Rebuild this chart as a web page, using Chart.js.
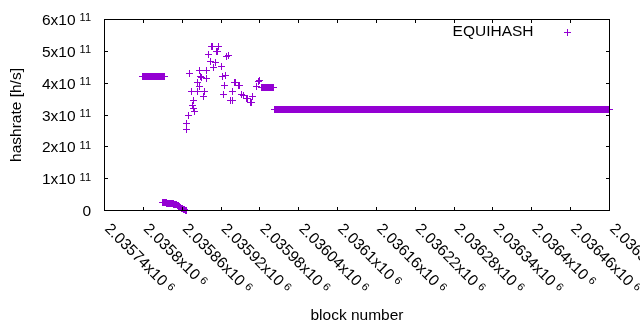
<!DOCTYPE html>
<html>
<head>
<meta charset="utf-8">
<script src="https://cdn.jsdelivr.net/npm/chart.js@4/dist/chart.umd.min.js"></script>
<style>
	html, body { margin: 0; padding: 0; background: #fff; }
</style>
</head>
<body>
<canvas id="chartHashrate" width="640" height="330"></canvas>
<script>
const seriesName = "EQUIHASH";

// stretches of blocks that stay on one flat value
const runStart = [2035799, 2035982, 2036003];
const runEnd = [2035833, 2036001, 2036520];
const runValue = [4.2e11, 3.87e11, 3.18e11];

// small falling arc near zero, one value per block from arcStart
const arcStart = 2035830;
const arcValues = [
	2.5e10, 2.5e10, 2.5e10, 2.5e10, 2.5e10, 2.5e10, 2.4e10, 2.4e10, 2.4e10, 2.4e10,
	2.4e10, 2.4e10, 2.3e10, 2.3e10, 2.3e10, 2.2e10, 2.2e10, 2.1e10, 2.1e10, 2.0e10,
	1.9e10, 1.8e10, 1.7e10, 1.6e10, 1.5e10, 1.3e10, 1.2e10, 1.1e10, 1.0e10, 0.8e10,
	0.7e10, 0.6e10, 0.5e10, 0.4e10, 0.3e10, 0.1e10, 0,
];

// the scattered blocks in between
const scatterBlocks = [
	2035866, 2035867, 2035869, 2035872, 2035875, 2035876, 2035877, 2035878, 2035879, 2035883,
	2035884, 2035886, 2035887, 2035888, 2035890, 2035893, 2035894, 2035897, 2035898, 2035901,
	2035903, 2035905, 2035907, 2035908, 2035911, 2035913, 2035914, 2035916, 2035920, 2035923,
	2035924, 2035925, 2035927, 2035929, 2035931, 2035935, 2035937, 2035938, 2035941, 2035943,
	2035947, 2035949, 2035952, 2035954, 2035959, 2035961, 2035965, 2035967, 2035969, 2035974,
	2035978, 2035980,
];
const scatterValues = [
	2.55e11, 2.72e11, 3.0e11, 4.3e11, 3.75e11, 3.31e11, 3.47e11, 3.21e11, 3.1e11, 3.75e11,
	4.01e11, 4.41e11, 3.88e11, 4.2e11, 4.16e11, 3.59e11, 3.73e11, 4.15e11, 4.38e11, 4.9e11,
	4.67e11, 5.16e11, 5.14e11, 4.49e11, 4.65e11, 4.98e11, 5.0e11, 5.16e11, 4.51e11, 4.22e11,
	3.63e11, 3.94e11, 4.25e11, 4.84e11, 4.86e11, 3.44e11, 3.45e11, 3.75e11, 4.02e11, 4.01e11,
	3.94e11, 3.93e11, 3.63e11, 3.62e11, 3.52e11, 3.51e11, 3.38e11, 3.39e11, 3.59e11, 3.88e11,
	4.06e11, 4.07e11,
];

const xMin = 2035740, xMax = 2036520, xStep = 60;
const yMin = 0, yMax = 6e11, yStep = 1e11;

const fontFamily = "'Liberation Sans', Arial, sans-serif";
const mainSize = 15.5;
const supSize = 11;
const purple = "#9400d3";

let points = [];
runStart.forEach((start, i) => {
	for (let b = start; b <= runEnd[i]; b++) points.push({ x: b, y: runValue[i] });
});
arcValues.forEach((v, i) => points.push({ x: arcStart + i, y: v }));
scatterBlocks.forEach((b, i) => points.push({ x: b, y: scatterValues[i] }));

// "2.0358x10^6" style labels, split into base and superscript
const sciParts = (value, unit, exp) => {
	if (value === 0) return { base: "0", sup: "" };
	const m = parseFloat((value / unit).toPrecision(6));
	return { base: m + "x10", sup: String(exp) };
};

const drawSci = (ctx, parts, x, y, gap) => {
	ctx.font = `${mainSize}px ${fontFamily}`;
	ctx.fillText(parts.base, x, y);
	if (!parts.sup) return;
	const wb = ctx.measureText(parts.base).width;
	ctx.font = `${supSize}px ${fontFamily}`;
	ctx.fillText(parts.sup, x + wb + gap, y - 3.5);
};

const sciWidth = (ctx, parts, gap) => {
	ctx.font = `${mainSize}px ${fontFamily}`;
	let w = ctx.measureText(parts.base).width;
	if (parts.sup) {
		ctx.font = `${supSize}px ${fontFamily}`;
		w += gap + ctx.measureText(parts.sup).width;
	}
	return w;
};

const gnuFrame = {
	id: "gnuFrame",
	beforeDatasetsDraw(chart) {
		// snap markers onto the pixel grid so they come out crisp like gnuplot
		chart.getDatasetMeta(0).data.forEach((el) => {
			el.x = Math.floor(el.x) + 0.5;
			el.y = Math.floor(el.y) + 0.5;
		});
	},
	afterDraw(chart) {
		const { ctx, chartArea: a, scales } = chart;
		const L = Math.floor(a.left), R = Math.floor(a.right);
		const T = Math.floor(a.top), B = Math.floor(a.bottom);
		const tick = 4;
		ctx.save();
		ctx.fillStyle = "#000";
		// border box
		ctx.fillRect(L, T, R - L + 1, 1);
		ctx.fillRect(L, B, R - L + 1, 1);
		ctx.fillRect(L, T, 1, B - T + 1);
		ctx.fillRect(R, T, 1, B - T + 1);
		// inward ticks, mirrored
		scales.x.ticks.forEach((t) => {
			const px = Math.floor(scales.x.getPixelForValue(t.value));
			ctx.fillRect(px, B - tick + 1, 1, tick);
			ctx.fillRect(px, T, 1, tick);
		});
		scales.y.ticks.forEach((t) => {
			const py = Math.floor(scales.y.getPixelForValue(t.value));
			ctx.fillRect(L, py, tick, 1);
			ctx.fillRect(R - tick + 1, py, tick, 1);
		});
		// y tick labels
		ctx.textBaseline = "alphabetic";
		ctx.textAlign = "left";
		scales.y.ticks.forEach((t) => {
			const py = scales.y.getPixelForValue(t.value);
			const parts = sciParts(t.value, 1e11, 11);
			const w = sciWidth(ctx, parts, 4);
			drawSci(ctx, parts, 91 - w, py + 5.5, 4);
		});
		// x tick labels, rotated
		scales.x.ticks.forEach((t) => {
			const px = scales.x.getPixelForValue(t.value);
			const parts = sciParts(t.value, 1e6, 6);
			ctx.save();
			ctx.translate(px + 3, 226);
			ctx.rotate(Math.PI / 4);
			drawSci(ctx, parts, 0, 5, 4);
			ctx.restore();
		});
		// key
		ctx.font = `${mainSize}px ${fontFamily}`;
		ctx.textAlign = "right";
		ctx.textBaseline = "middle";
		ctx.fillText(seriesName, 533.5, 31.5);
		ctx.strokeStyle = purple;
		ctx.lineWidth = 1;
		ctx.beginPath();
		ctx.moveTo(564, 32.5);
		ctx.lineTo(571, 32.5);
		ctx.moveTo(567.5, 29);
		ctx.lineTo(567.5, 36);
		ctx.stroke();
		ctx.restore();
	},
};

const ctx = document.getElementById("chartHashrate");
const chart = new Chart(ctx, {
	type: "scatter",
	data: {
		datasets: [
			{
				label: seriesName,
				data: points,
				showLine: false,
				pointStyle: "cross",
				pointRadius: 3.5,
				pointHoverRadius: 3.5,
				pointBorderWidth: 1,
				borderColor: purple,
				backgroundColor: purple,
				clip: false,
			},
		],
	},
	options: {
		responsive: false,
		animation: false,
		events: [],
		layout: { padding: { top: 19.3, right: 30.5, left: 0, bottom: 0 } },
		plugins: {
			legend: { display: false },
			tooltip: { enabled: false },
		},
		scales: {
			x: {
				type: "linear",
				min: xMin,
				max: xMax,
				ticks: { stepSize: xStep, display: false },
				grid: { display: false },
				border: { display: false },
				title: {
					display: true,
					text: "block number",
					color: "#000",
					font: { family: fontFamily, size: mainSize },
					padding: { top: 0, bottom: 5 },
				},
				afterFit: (scale) => {
					scale.height = 119.3;
				},
			},
			y: {
				min: yMin,
				max: yMax,
				ticks: { stepSize: yStep, display: false },
				grid: { display: false },
				border: { display: false },
				title: {
					display: true,
					text: "hashrate [h/s]",
					color: "#000",
					font: { family: fontFamily, size: mainSize },
					padding: { top: 7, bottom: 0 },
				},
				afterFit: (scale) => {
					scale.width = 104.5;
				},
			},
		},
	},
	plugins: [gnuFrame],
});
</script>
</body>
</html>
